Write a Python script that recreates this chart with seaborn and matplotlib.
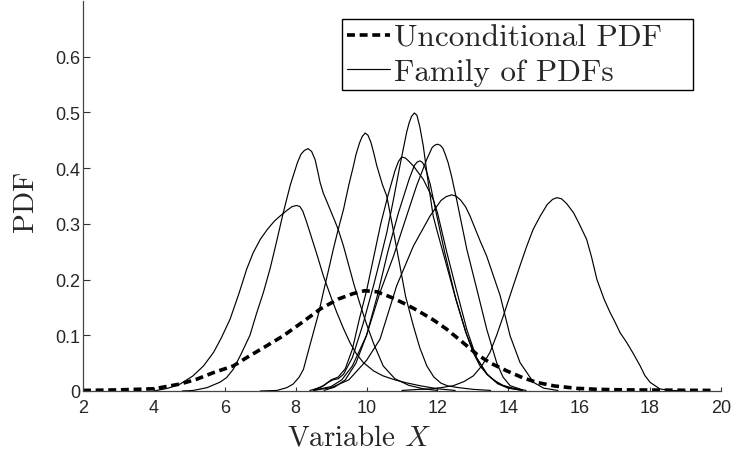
import numpy as np
import pandas as pd
import matplotlib
matplotlib.use("Agg")
import matplotlib.pyplot as plt
import seaborn as sns

# ---- unconditional PDF (dashed) ----
uncond_x = [2.0, 3.0, 4.0, 4.74, 5.2, 5.68, 6.24, 6.62, 7.1, 7.65, 8.2, 8.69, 9.2, 9.63, 9.95,
            10.3, 10.7, 11.1, 11.45, 11.9, 12.26, 12.7, 13.11, 13.5, 13.96, 14.4, 14.8, 15.3,
            15.93, 16.5, 17.3, 18.5, 19.8]
uncond_y = [0.001, 0.002, 0.004, 0.0125, 0.021, 0.033, 0.045, 0.06, 0.078, 0.099, 0.124, 0.147,
            0.165, 0.175, 0.18, 0.178, 0.168, 0.156, 0.144, 0.127, 0.111, 0.088, 0.066, 0.05,
            0.036, 0.024, 0.0155, 0.009, 0.0048, 0.003, 0.002, 0.0015, 0.001]

# ---- family of conditional PDFs ----
pdf_a_x = [4.0, 4.4, 4.74, 5.1, 5.4, 5.68, 5.9, 6.15, 6.4, 6.62, 6.8, 7.0, 7.2, 7.4, 7.56, 7.75,
           7.9, 8.03, 8.12, 8.2, 8.3, 8.4, 8.5, 8.6, 8.78, 9.0, 9.16, 9.35, 9.53, 9.7, 9.91,
           10.2, 10.47, 10.8, 11.1, 11.5, 12.0, 12.5]
pdf_a_y = [0.0, 0.005, 0.0125, 0.027, 0.045, 0.069, 0.095, 0.129, 0.175, 0.219, 0.248, 0.272,
           0.29, 0.305, 0.314, 0.324, 0.331, 0.333, 0.331, 0.323, 0.305, 0.285, 0.265, 0.245,
           0.207, 0.168, 0.141, 0.112, 0.087, 0.068, 0.051, 0.036, 0.027, 0.02, 0.015, 0.0096,
           0.004, 0.001]

pdf_b_x = [4.8, 5.11, 5.5, 5.87, 6.05, 6.24, 6.45, 6.71, 6.9, 7.09, 7.28, 7.45, 7.65, 7.85, 7.95,
           8.05, 8.15, 8.25, 8.35, 8.45, 8.55, 8.62, 8.69, 8.78, 8.88, 8.97, 9.1, 9.2, 9.35, 9.5,
           9.65, 9.82, 10.0, 10.2, 10.47, 10.8, 11.2, 11.6, 12.0]
pdf_b_y = [0.0, 0.001, 0.006, 0.016, 0.024, 0.039, 0.065, 0.1, 0.14, 0.177, 0.22, 0.265, 0.32,
           0.37, 0.39, 0.41, 0.425, 0.432, 0.435, 0.43, 0.415, 0.395, 0.374, 0.355, 0.34, 0.326,
           0.306, 0.29, 0.26, 0.225, 0.19, 0.155, 0.12, 0.085, 0.045, 0.022, 0.01, 0.004, 0.001]

pdf_c_x = [7.0, 7.47, 7.75, 7.93, 8.1, 8.22, 8.35, 8.5, 8.65, 8.78, 8.92, 9.06, 9.2, 9.35, 9.5,
           9.63, 9.7, 9.8, 9.88, 9.96, 10.04, 10.12, 10.2, 10.29, 10.45, 10.57, 10.75, 10.94,
           11.1, 11.32, 11.5, 11.7, 11.9, 12.1, 12.3, 12.6, 13.0, 13.5]
pdf_c_y = [0.0, 0.001, 0.006, 0.0125, 0.025, 0.039, 0.07, 0.105, 0.14, 0.177, 0.215, 0.254, 0.29,
           0.326, 0.37, 0.404, 0.424, 0.445, 0.457, 0.463, 0.459, 0.447, 0.428, 0.404, 0.37,
           0.35, 0.29, 0.225, 0.17, 0.117, 0.078, 0.045, 0.025, 0.014, 0.009, 0.006, 0.003,
           0.001]

pdf_d_x = [8.4, 8.7, 8.9, 9.05, 9.2, 9.35, 9.6, 9.9, 10.2, 10.38, 10.57, 10.76, 10.94, 11.13,
           11.2, 11.27, 11.35, 11.42, 11.5, 11.6, 11.74, 11.88, 12.0, 12.26, 12.54, 12.83, 13.0,
           13.2, 13.4, 13.58, 13.85, 14.14, 14.5]
pdf_d_y = [0.001, 0.006, 0.015, 0.02, 0.022, 0.03, 0.06, 0.12, 0.19, 0.235, 0.284, 0.344, 0.404,
           0.464, 0.481, 0.493, 0.499, 0.495, 0.475, 0.44, 0.374, 0.314, 0.285, 0.225, 0.16, 0.1,
           0.07, 0.045, 0.03, 0.02, 0.01, 0.005, 0.001]

pdf_e_x = [8.5, 8.8, 9.0, 9.2, 9.4, 9.6, 9.8, 10.0, 10.2, 10.4, 10.6, 10.8, 10.9, 10.99, 11.1,
           11.2, 11.32, 11.6, 11.88, 12.0, 12.26, 12.54, 12.83, 13.1, 13.4, 13.7, 14.0, 14.4]
pdf_e_y = [0.002, 0.01, 0.02, 0.025, 0.04, 0.075, 0.13, 0.18, 0.24, 0.3, 0.35, 0.395, 0.412,
           0.42, 0.418, 0.412, 0.404, 0.38, 0.344, 0.32, 0.25, 0.18, 0.11, 0.06, 0.03, 0.013,
           0.005, 0.001]

pdf_f_x = [8.8, 9.1, 9.4, 9.7, 10.0, 10.3, 10.6, 10.9, 11.2, 11.35, 11.43, 11.51, 11.58, 11.65,
           11.72, 11.8, 11.98, 12.2, 12.5, 12.8, 13.1, 13.4, 13.7, 14.0, 14.4]
pdf_f_y = [0.001, 0.007, 0.02, 0.05, 0.1, 0.17, 0.25, 0.32, 0.38, 0.405, 0.411, 0.413, 0.41,
           0.402, 0.388, 0.37, 0.315, 0.25, 0.17, 0.105, 0.06, 0.03, 0.014, 0.006, 0.001]

pdf_g_x = [8.5, 9.0, 9.3, 9.6, 10.0, 10.38, 10.76, 11.13, 11.41, 11.7, 11.85, 11.92, 12.0,
           12.08, 12.15, 12.22, 12.3, 12.4, 12.54, 12.83, 13.11, 13.39, 13.67, 13.85, 14.05,
           14.4]
pdf_g_y = [0.001, 0.008, 0.02, 0.045, 0.1, 0.177, 0.242, 0.314, 0.368, 0.416, 0.437, 0.441,
           0.443, 0.441, 0.436, 0.425, 0.41, 0.385, 0.344, 0.254, 0.183, 0.111, 0.051, 0.025,
           0.0096, 0.002]

pdf_h_x = [8.5, 9.0, 9.5, 10.0, 10.38, 10.85, 11.32, 11.79, 12.1, 12.25, 12.4, 12.52, 12.65,
           12.8, 12.92, 13.2, 13.39, 13.77, 14.05, 14.33, 14.71, 15.0, 15.4]
pdf_h_y = [0.001, 0.006, 0.02, 0.055, 0.093, 0.189, 0.26, 0.314, 0.342, 0.349, 0.352, 0.35,
           0.343, 0.33, 0.314, 0.27, 0.242, 0.171, 0.099, 0.051, 0.0155, 0.005, 0.001]

pdf_i_x = [11.0, 11.5, 11.79, 12.1, 12.45, 12.75, 13.01, 13.25, 13.48, 13.67, 13.86, 14.14,
           14.33, 14.52, 14.7, 14.9, 15.1, 15.25, 15.37, 15.5, 15.65, 15.84, 16.0, 16.21, 16.35,
           16.5, 16.7, 16.87, 17.0, 17.15, 17.34, 17.5, 17.72, 17.85, 18.0, 18.28, 18.6, 19.0]
pdf_i_y = [0.001, 0.003, 0.0036, 0.006, 0.0096, 0.017, 0.027, 0.045, 0.069, 0.1, 0.135, 0.189,
           0.225, 0.26, 0.29, 0.314, 0.335, 0.344, 0.347, 0.345, 0.336, 0.32, 0.3, 0.272, 0.24,
           0.2, 0.165, 0.141, 0.125, 0.105, 0.087, 0.07, 0.045, 0.028, 0.0155, 0.0036, 0.001,
           0.0]

family = [(pdf_a_x, pdf_a_y), (pdf_b_x, pdf_b_y), (pdf_c_x, pdf_c_y), (pdf_d_x, pdf_d_y),
          (pdf_e_x, pdf_e_y), (pdf_f_x, pdf_f_y), (pdf_g_x, pdf_g_y), (pdf_h_x, pdf_h_y),
          (pdf_i_x, pdf_i_y)]

x_ticks = [2, 4, 6, 8, 10, 12, 14, 16, 18, 20]
y_ticks = [0, 0.1, 0.2, 0.3, 0.4, 0.5, 0.6]
y_tick_labels = ["0", "0.1", "0.2", "0.3", "0.4", "0.5", "0.6"]

sns.set_style("white")
plt.rcParams["font.family"] = ["cmr10", "DejaVu Serif"]
plt.rcParams["mathtext.fontset"] = "cm"
plt.rcParams["axes.unicode_minus"] = False

fig = plt.figure(figsize=(7.31, 4.56), dpi=100)
ax = fig.add_axes([83 / 731, 1 - 392 / 456, 638 / 731, 390 / 456])

label_size = 21
legend_size = 22.5

for i, (xs, ys) in enumerate(family):
    sns.lineplot(x=xs, y=ys, ax=ax, color="black", linewidth=0.85, estimator=None,
                 label="Family of PDFs" if i == 0 else None, legend=False)

sns.lineplot(x=uncond_x, y=uncond_y, ax=ax, color="black", linewidth=2.6,
             estimator=None, label="Unconditional PDF", legend=False)
ax.lines[-1].set_dashes((2.2, 1.3))
ax.lines[-1].set_dash_capstyle("butt")

ax.set_xlim(2, 20)
ax.set_ylim(0, 0.7)
ax.set_xticks(x_ticks)
ax.set_xticklabels([str(t) for t in x_ticks])
ax.set_yticks(y_ticks)
ax.set_yticklabels(y_tick_labels)

for lab in ax.get_xticklabels() + ax.get_yticklabels():
    lab.set_fontfamily("Liberation Sans")
    lab.set_fontsize(13)

ax.tick_params(axis="x", direction="in", length=3, width=0.8, color="#333333", pad=6,
               bottom=True)
ax.tick_params(axis="y", direction="in", length=5, width=0.8, color="#333333", pad=2,
               left=True)

for side in ["top", "right"]:
    ax.spines[side].set_visible(False)
for side in ["left", "bottom"]:
    ax.spines[side].set_color("#444444")
    ax.spines[side].set_linewidth(0.9)

ax.set_xlabel("Variable $X$", fontsize=label_size, va="center")
ax.xaxis.set_label_coords(0.433, -0.118)
ax.set_ylabel("PDF", fontsize=label_size, va="center")
ax.yaxis.set_label_coords(-0.089, 0.49)

handles, labels = ax.get_legend_handles_labels()
order = [labels.index("Unconditional PDF"), labels.index("Family of PDFs")]
leg = ax.legend([handles[k] for k in order], [labels[k] for k in order],
                loc="upper left", bbox_to_anchor=(0.406, 0.777, 0.55, 0.177),
                mode="expand", borderaxespad=0,
                fontsize=legend_size, frameon=True, fancybox=False, framealpha=1,
                edgecolor="black", handlelength=1.4, handletextpad=0.1,
                borderpad=0.15, labelspacing=0.2)
leg.get_frame().set_linewidth(1.0)

fig.savefig("out.png", dpi=100)
